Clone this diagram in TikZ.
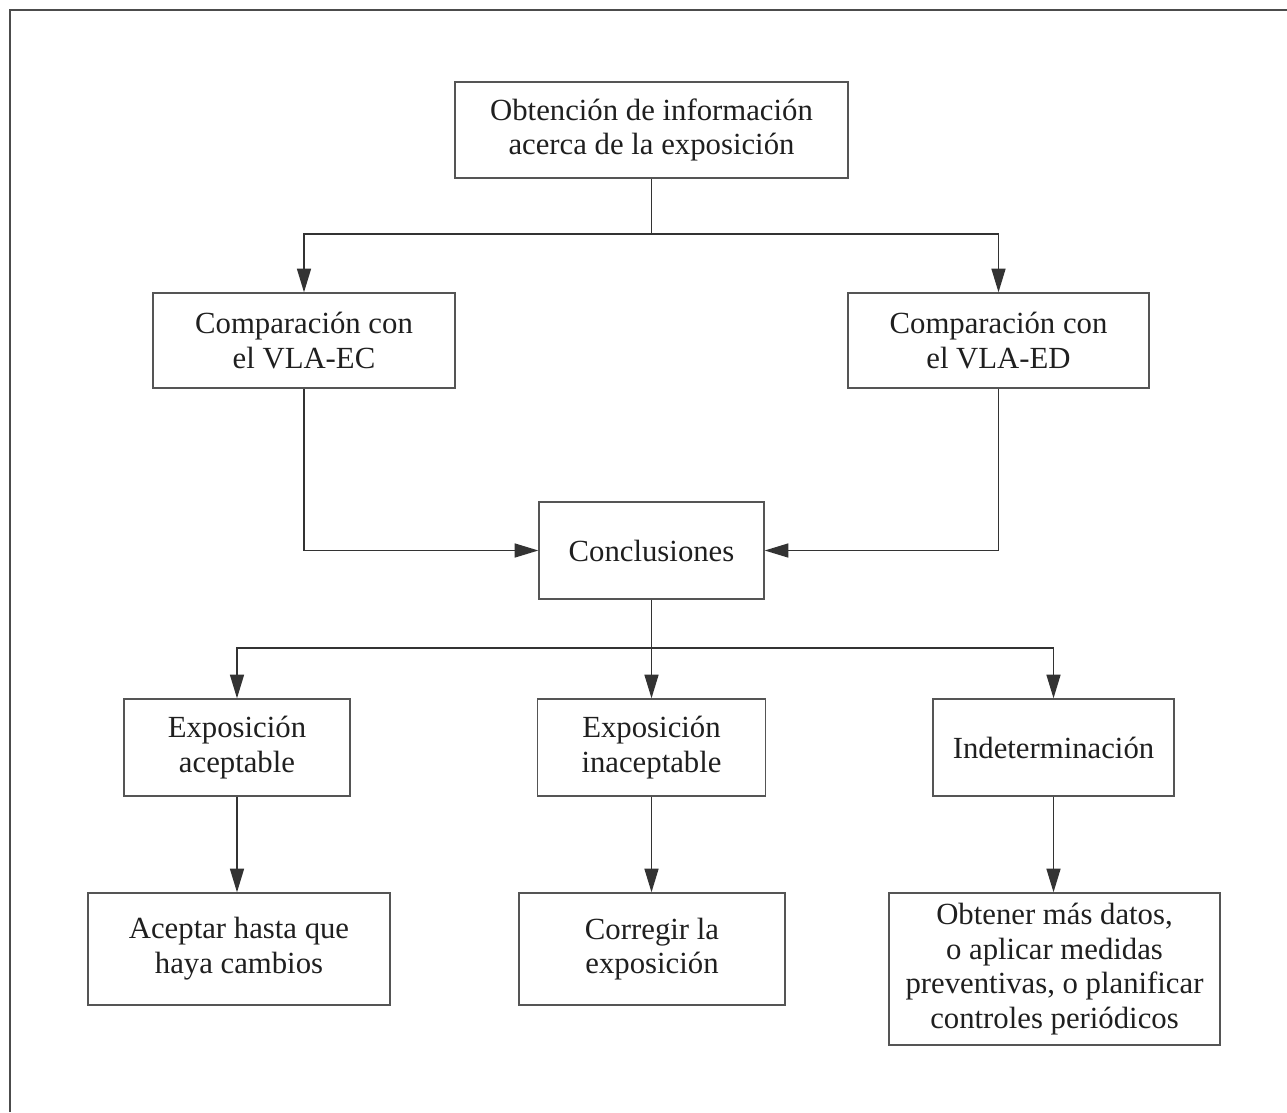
\documentclass[tikz,border=0pt]{standalone}
\usepackage{fontspec}
\setmainfont{Liberation Serif}
\usetikzlibrary{arrows.meta}
\definecolor{boxgray}{HTML}{555555}
\definecolor{linegray}{HTML}{333333}
\begin{document}
\begin{tikzpicture}[x=0.02cm,y=-0.02cm,
  box/.style={draw=boxgray, line width=0.8pt, inner sep=0pt, align=center,
    font=\fontsize{17.5}{19.8}\selectfont, text=black!88},
  conn/.style={draw=linegray, line width=0.8pt},
  arr/.style={conn, -{Triangle[length=13.5pt,width=8pt]}},
  frame/.style={draw=black!70, line width=1.1pt}]
\useasboundingbox (0,0) rectangle (1287,1112);
\draw[frame] (10,1112) -- (10,10) -- (1287,10);

\node[box, minimum width=7.86cm, minimum height=1.92cm] (top) at (651.5,130)
  {Obtención de información\\acerca de la exposición};
\node[box, minimum width=6.04cm, minimum height=1.9cm] (ec) at (304,340.5)
  {Comparación con\\el VLA-EC};
\node[box, minimum width=6.02cm, minimum height=1.9cm] (ed) at (998.5,340.5)
  {Comparación con\\el VLA-ED};
\node[box, minimum width=4.5cm, minimum height=1.94cm] (concl) at (651.5,550.5)
  {Conclusiones};
\node[box, minimum width=4.52cm, minimum height=1.94cm] (acept) at (237,747.5)
  {Exposición\\aceptable};
\node[box, minimum width=4.56cm, minimum height=1.94cm] (inacept) at (651.5,747.5)
  {Exposición\\inaceptable};
\node[box, minimum width=4.82cm, minimum height=1.94cm] (indet) at (1053.5,747.5)
  {Indeterminación};
\node[box, minimum width=6.04cm, minimum height=2.24cm] (aceptar) at (239,949)
  {Aceptar hasta que\\haya cambios};
\node[box, minimum width=5.32cm, minimum height=2.24cm] (corregir) at (652,949)
  {Corregir la\\exposición};
\node[box, minimum width=6.62cm, minimum height=3.04cm] (obtener) at (1054.5,969)
  {Obtener más datos,\\o aplicar medidas\\preventivas, o planificar\\controles periódicos};

\coordinate (j1) at (651.5,234);
\coordinate (j2) at (651.5,648);

\draw[conn] (top.south) -- (j1);
\draw[arr] (j1) -| (ec.north);
\draw[arr] (j1) -| (ed.north);
\draw[arr] (ec.south) |- (concl.west);
\draw[arr] (ed.south) |- (concl.east);
\draw[conn] (concl.south) -- (j2);
\draw[arr] (j2) -| (acept.north);
\draw[arr] (j2) -- (inacept.north);
\draw[arr] (j2) -| (indet.north);
\draw[arr] (acept.south) -- (acept.south |- aceptar.north);
\draw[arr] (inacept.south) -- (inacept.south |- corregir.north);
\draw[arr] (indet.south) -- (indet.south |- obtener.north);
\end{tikzpicture}
\end{document}
